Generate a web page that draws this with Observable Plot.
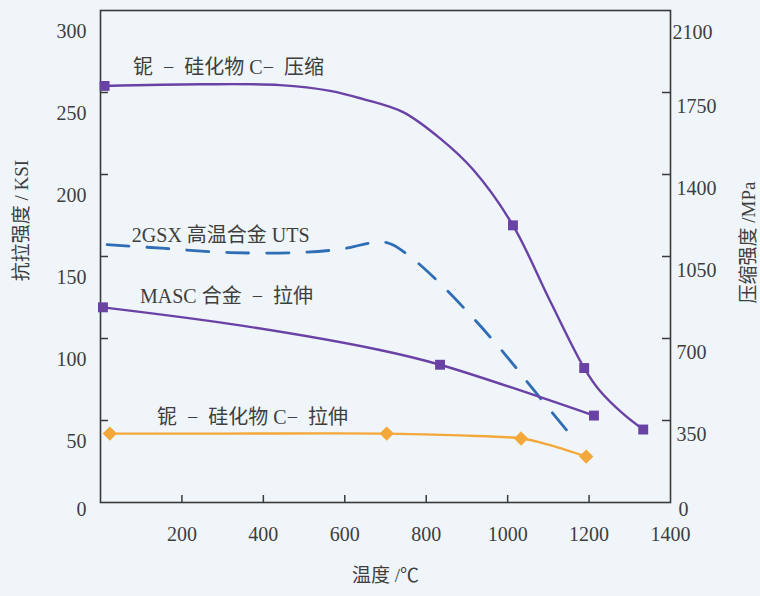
<!DOCTYPE html>
<html><head><meta charset="utf-8">
<script src="https://cdn.jsdelivr.net/npm/d3@7"></script>
<script src="https://cdn.jsdelivr.net/npm/@observablehq/plot@0.6"></script>
<style>html,body{margin:0;padding:0;background:#eff5f9;overflow:hidden;}</style>
</head><body><div id="chart"></div>
<script>
// ---- data (temperature °C, strength KSI) ----
const compressionTemp = [10, 245, 441, 564, 645, 743, 834, 915, 1013, 1104, 1188, 1227, 1284, 1333];
const compressionKSI  = [254, 255, 254.5, 251, 246, 238, 222, 203, 169, 123, 82, 68, 54, 44.5];
const compressionMarkTemp = [10, 1013, 1188, 1333];
const compressionMarkKSI  = [254, 169, 82, 44.5];

const mascTemp = [6, 343, 686, 834, 1212];
const mascKSI  = [119, 108, 93, 84, 53];
const mascMarkTemp = [6, 834, 1212];
const mascMarkKSI  = [119, 84, 53];

const tensileTemp = [23, 300, 703, 883, 1033, 1104, 1193];
const tensileKSI  = [42, 42, 42, 40.9, 39, 35, 28];
const tensileMarkTemp = [23, 703, 1033, 1193];
const tensileMarkKSI  = [42, 42, 39, 28];

const gsxTemp = [16, 158, 318, 490, 600, 654, 686, 716, 763, 829, 912, 994, 1067, 1166];
const gsxKSI  = [157.3, 154.9, 152.4, 152.4, 154.9, 157.9, 159.1, 157.3, 149.4, 134.8, 113.4, 90.2, 67.7, 37.8];

const labelText = [
  "铌\u2002−\u2002硅化物 C−\u2002压缩",
  "2GSX 高温合金 UTS",
  "MASC 合金\u2002−\u2002拉伸",
  "铌\u2002−\u2002硅化物 C−\u2002拉伸"
];
const labelTemp = [80, 77, 97, 139];
const labelKSI  = [265, 163, 125.6, 51.8];

const xTicks = [200, 400, 600, 800, 1000, 1200, 1400];
const xTickMarks = [200, 400, 600, 800, 1000, 1200];
const leftTicks = [0, 50, 100, 150, 200, 250, 300];
const rightTicksMPa = [0, 350, 700, 1050, 1400, 1750, 2100];
const MPA_PER_KSI = 7; // right axis scale factor as drawn

const zip = (xs, ys) => xs.map((x, i) => ({t: x, v: ys[i]}));

const purple = "#6a42a6", blue = "#2f6db5", orange = "#f4a83a";
const axisColor = "#3a3a3a", textColor = "#3e3e3e";
const font = "'Liberation Serif', 'Noto Sans CJK SC', serif";

const W = 760, H = 596, mL = 100, mR = 90, mT = 10, mB = 94;
const pw = W - mL - mR, ph = H - mT - mB;
const tickFont = 20, titleFont = 19, noteFont = 20;

const chart = Plot.plot({
  width: W, height: H,
  marginLeft: mL, marginRight: mR, marginTop: mT, marginBottom: mB,
  style: {background: "transparent", fontFamily: font, fontSize: "18px", color: textColor},
  x: {domain: [0, 1400], axis: null},
  y: {domain: [0, 300], axis: null},
  marks: [
    Plot.frame({stroke: axisColor, strokeWidth: 1.6}),
    // inward ticks
    Plot.tickY(leftTicks.filter(d => d > 0 && d < 300), {y: d => d, stroke: axisColor, strokeWidth: 1.5, insetRight: pw - 8}),
    Plot.tickY(rightTicksMPa.filter(d => d > 0 && d < 2100), {y: d => d / MPA_PER_KSI, stroke: axisColor, strokeWidth: 1.5, insetLeft: pw - 8}),
    Plot.tickX(xTickMarks, {x: d => d, stroke: axisColor, strokeWidth: 1.5, insetTop: ph - 7}),
    // tick labels (placed as in the original figure)
    Plot.text(leftTicks.filter(d => d > 0), {y: d => d, text: d => String(d), frameAnchor: "left", dx: -14, dy: 21, textAnchor: "end", fill: textColor, fontSize: tickFont}),
    Plot.text(leftTicks.filter(d => d === 0), {y: d => d, text: d => String(d), frameAnchor: "left", dx: -14, dy: 7, textAnchor: "end", fill: textColor, fontSize: tickFont}),
    Plot.text(rightTicksMPa.filter(d => d > 0 && d < 2100), {y: d => d / MPA_PER_KSI, text: d => String(d), frameAnchor: "right", dx: 6, dy: 14, textAnchor: "start", fill: textColor, fontSize: tickFont}),
    Plot.text(rightTicksMPa.filter(d => d === 2100), {y: d => d / MPA_PER_KSI, text: d => String(d), frameAnchor: "right", dx: 2, dy: 22, textAnchor: "start", fill: textColor, fontSize: tickFont}),
    Plot.text(rightTicksMPa.filter(d => d === 0), {y: d => d / MPA_PER_KSI, text: d => String(d), frameAnchor: "right", dx: 8, dy: 7, textAnchor: "start", fill: textColor, fontSize: tickFont}),
    Plot.text(xTicks, {x: d => d, text: d => String(d), frameAnchor: "bottom", dy: 38, textAnchor: "middle", fill: textColor, fontSize: tickFont}),
    // axis titles
    Plot.text(["抗拉强度 / KSI"], {frameAnchor: "left", dx: -79, dy: -36, rotate: -90, textAnchor: "middle", fill: textColor, fontSize: titleFont}),
    Plot.text(["压缩强度 /MPa"], {frameAnchor: "right", dx: 78, dy: -14, rotate: -90, textAnchor: "middle", fill: textColor, fontSize: titleFont}),
    Plot.text(["温度 /℃"], {frameAnchor: "bottom", dy: 79, textAnchor: "middle", fill: textColor, fontSize: titleFont}),
    // series
    Plot.line(zip(gsxTemp, gsxKSI), {x: "t", y: "v", stroke: blue, strokeWidth: 2.8, strokeDasharray: "22,18", curve: "catmull-rom"}),
    Plot.line(zip(tensileTemp, tensileKSI), {x: "t", y: "v", stroke: orange, strokeWidth: 2.4, curve: "catmull-rom"}),
    Plot.line(zip(mascTemp, mascKSI), {x: "t", y: "v", stroke: purple, strokeWidth: 2.4, curve: "catmull-rom"}),
    Plot.line(zip(compressionTemp, compressionKSI), {x: "t", y: "v", stroke: purple, strokeWidth: 2.4, curve: "catmull-rom"}),
    Plot.dot(zip(tensileMarkTemp, tensileMarkKSI), {x: "t", y: "v", symbol: "diamond2", r: 5.5, fill: orange, stroke: orange}),
    Plot.dot(zip(mascMarkTemp, mascMarkKSI), {x: "t", y: "v", symbol: "square", r: 5.6, fill: purple}),
    Plot.dot(zip(compressionMarkTemp, compressionMarkKSI), {x: "t", y: "v", symbol: "square", r: 5.6, fill: purple}),
    // annotations
    Plot.text(labelText.map((s, i) => ({s, t: labelTemp[i], v: labelKSI[i]})), {x: "t", y: "v", text: "s", textAnchor: "start", fill: textColor, fontSize: noteFont})
  ]
});
document.getElementById("chart").appendChild(chart);
</script></body></html>
